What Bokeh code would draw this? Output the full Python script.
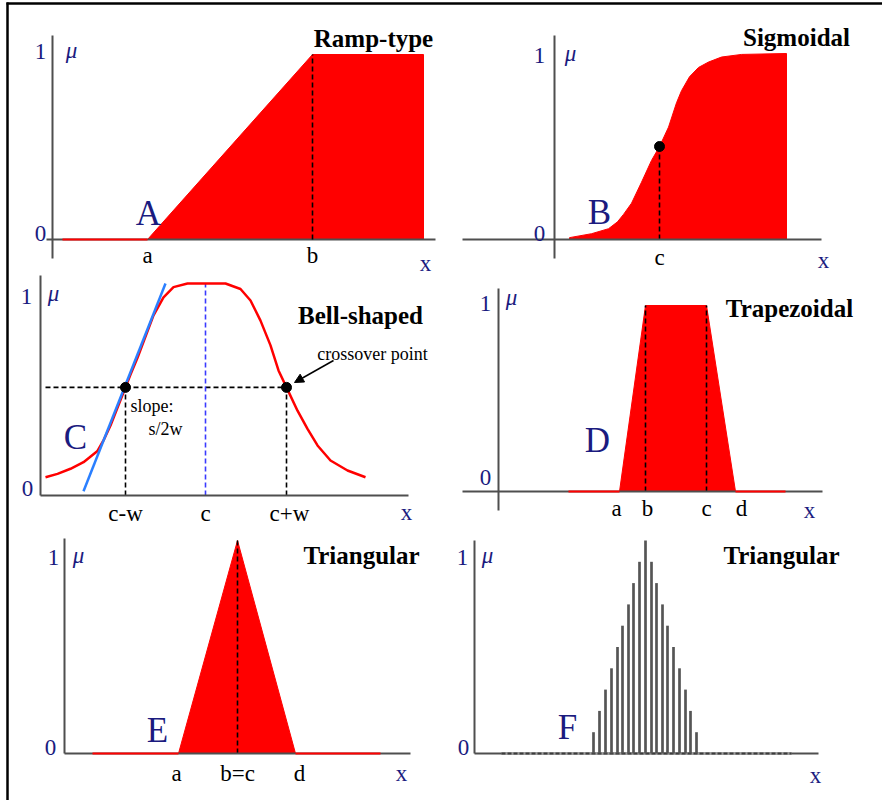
from bokeh.plotting import figure
from bokeh.models import Range1d, Arrow, NormalHead
from bokeh.core.properties import value
from bokeh.embed import file_html
from bokeh.resources import INLINE

# ------------------------------------------------------------------ data
# x: position on the universe of discourse (arbitrary units), mu: membership grade

# A  ramp-type
ramp_support = [1.0, 9.5]
ramp_x = [9.5, 26.0, 37.1, 37.1]
ramp_mu = [0.0, 1.0, 1.0, 0.0]
ramp_ticks = [9.5, 26.0]
ramp_tick_labels = ["a", "b"]

# B  sigmoidal
sig_x = [1.5, 3.7, 5.4, 6.3, 6.9, 7.7, 8.7, 9.7, 10.5, 11.4, 12.2, 12.7, 13.5, 14.4, 15.4, 16.7,
         18.7, 23.2]
sig_mu = [0.01, 0.031, 0.058, 0.095, 0.135, 0.195, 0.308, 0.425, 0.5, 0.604, 0.735, 0.80, 0.875,
          0.925, 0.954, 0.981, 0.995, 1.0]
sig_c = 10.5
sig_c_mu = 0.5

# C  bell-shaped
bell_x = [0.5, 1.7, 3.0, 4.3, 5.7, 6.3, 7.0, 7.5, 8.0, 8.5, 9.0, 9.7, 10.5, 11.3, 12.3, 13.3, 14.7,
          18.5, 20.0, 21.0, 22.0, 23.0, 23.8, 24.6, 25.7, 26.7, 27.7, 29.0, 30.7, 32.5]
bell_mu = [0.086, 0.102, 0.126, 0.157, 0.21, 0.26, 0.33, 0.39, 0.45, 0.51, 0.57, 0.65, 0.75, 0.85,
           0.935, 0.983, 1.0,
           1.0, 0.974, 0.92, 0.825, 0.708, 0.59, 0.51, 0.40, 0.314, 0.236, 0.165, 0.118, 0.086]
bell_ticks = [8.5, 16.5, 24.6]
bell_tick_labels = ["c-w", "c", "c+w"]
bell_cross_mu = 0.51
tangent_x = [4.3, 12.5]
tangent_mu = [0.02, 1.0]

# D  trapezoidal
trap_x = [12.1, 14.7, 20.8, 23.7]
trap_mu = [0.0, 1.0, 1.0, 0.0]
trap_support = [7.0, 28.7]
trap_tick_labels = ["a", "b", "c", "d"]

# E  triangular
tri_x = [11.4, 17.3, 23.1]
tri_mu = [0.0, 1.0, 0.0]
tri_support = [2.8, 31.6]
tri_tick_labels = ["a", "b=c", "d"]

# F  discrete triangular
disc_x = [11.9, 12.5, 13.1, 13.7, 14.3, 14.8, 15.4, 15.9, 16.5, 17.1,
          17.7, 18.2, 18.8, 19.3, 19.9, 20.5, 21.1, 21.6, 22.2]
disc_mu = [0.1, 0.2, 0.3, 0.4, 0.5, 0.6, 0.7, 0.8, 0.9, 1.0,
           0.9, 0.8, 0.7, 0.6, 0.5, 0.4, 0.3, 0.2, 0.1]
disc_support = [2.7, 31.7]

# ------------------------------------------------------------------ styling
RED = "#ff0000"
NAVY = "#1b1b7f"
AXIS = "#4f4f4f"
SERIF = value("Liberation Serif")
LBL = 23
TITLE = 25
BIG = 35
NOTE = 18
W, H = 882, 800

# one canvas; every panel gets its own pair of scales (extra ranges)
p = figure(width=W, height=H, x_range=Range1d(0, W), y_range=Range1d(H, 0),
           output_backend="svg", toolbar_location=None,
           x_axis_location=None, y_axis_location=None,
           min_border=0, outline_line_color=None)
p.grid.visible = False
p.background_fill_color = "white"
p.border_fill_color = "white"


class Panel:
    """ox/oy = canvas pixel of the panel origin, sx/sy = pixels per data unit."""

    def __init__(self, name, ox, oy, sy, sx=10.0):
        self.n, self.ox, self.oy, self.sx, self.sy = name, ox, oy, sx, sy
        p.extra_x_ranges[name] = Range1d(self.X(0), self.X(W))
        p.extra_y_ranges[name] = Range1d(self.Y(H), self.Y(0))
        self.kw = dict(x_range_name=name, y_range_name=name)

    def X(self, px):
        return (px - self.ox) / self.sx

    def Y(self, py):
        return (self.oy - py) / self.sy

    def line(self, xs, ys, **kw):
        p.line(x=xs, y=ys, **kw, **self.kw)

    def dashed(self, xs, ys, color="black", width=1.6):
        self.line(xs, ys, line_color=color, line_width=width, line_dash="5 3")

    def patch(self, xs, ys, color=RED):
        p.patch(x=xs, y=ys, fill_color=color, line_color=color, **self.kw)

    def dots(self, xs, ys):
        p.scatter(x=xs, y=ys, size=10, color="black", **self.kw)

    def text(self, px, py, s, size=LBL, color="black", style="normal", align="center", x=None):
        xx = self.X(px) if x is None else x
        p.text(x=[xx], y=[self.Y(py)], text=[s], text_font=SERIF,
               text_font_size=f"{size}px", text_color=color, text_font_style=style,
               text_align=align, text_baseline="alphabetic", **self.kw)

    def axes(self, xa, ya):
        self.line([self.X(xa[0]), self.X(xa[1])], [0, 0], line_color=AXIS, line_width=2)
        self.line([0, 0], [self.Y(ya[0]), self.Y(ya[1])], line_color=AXIS, line_width=2)

    def scale_labels(self, one, mu, zero, xlab):
        self.text(*one, "1", color=NAVY)
        self.text(*mu, "μ", color=NAVY, style="italic")
        self.text(*zero, "0", color=NAVY)
        self.text(*xlab, "x", color=NAVY)


# outer frame of the figure (top and left edges)
p.line(x=[6, W], y=[3, 3], line_color="black", line_width=2.5)
p.line(x=[7, 7], y=[2, H], line_color="black", line_width=2.5)

# ------------------------------------------------------------------ A
A = Panel("A", ox=52, oy=239, sy=185)
A.patch([ramp_x[0]] + ramp_x, [0.0] + ramp_mu)
A.axes((46, 435), (258, 35))
A.line(ramp_support, [0, 0], line_color=RED, line_width=2)
A.dashed([ramp_ticks[1]] * 2, [0, 1])
for xv, lab in zip(ramp_ticks, ramp_tick_labels):
    A.text(0, 255, lab, x=xv)
A.scale_labels((40, 51), (71, 50), (40, 233), (425, 263))
A.text(148, 213, "A", size=BIG, color=NAVY)
A.text(373, 38, "Ramp-type", size=TITLE, style="bold")

# ------------------------------------------------------------------ B
B = Panel("B", ox=554, oy=239, sy=186)
B.patch(sig_x + [sig_x[-1], sig_x[0]], sig_mu + [0.0, 0.0])
B.dashed([sig_c, sig_c], [0, sig_c_mu])
B.axes((462, 821), (258, 35))
B.dots([sig_c], [sig_c_mu])
B.text(0, 257, "c", x=sig_c)
B.scale_labels((539, 55), (570, 53), (539, 233), (823, 260))
B.text(599, 212, "B", size=BIG, color=NAVY)
B.text(796, 37, "Sigmoidal", size=TITLE, style="bold")

# ------------------------------------------------------------------ C
C = Panel("C", ox=40, oy=495, sy=212)
C.dashed([bell_x[0], bell_ticks[2]], [bell_cross_mu, bell_cross_mu])
C.dashed([bell_ticks[0]] * 2, [0, bell_cross_mu])
C.dashed([bell_ticks[2]] * 2, [0, bell_cross_mu])
C.dashed([bell_ticks[1]] * 2, [0, 1.0], color="#3a3aff")
C.line(bell_x, bell_mu, line_color=RED, line_width=2.5, line_join="round")
C.line(tangent_x, tangent_mu, line_color="#2a7fff", line_width=2.5)
C.axes((40, 408), (495, 275))
C.dots([bell_ticks[0], bell_ticks[2]], [bell_cross_mu] * 2)
p.add_layout(Arrow(end=NormalHead(size=9, fill_color="black", line_color="black"),
                   x_start=C.X(333), y_start=C.Y(360), x_end=C.X(294), y_end=C.Y(382),
                   line_color="black", line_width=1.5, x_range_name="C", y_range_name="C"))
for xv, lab, dx in zip(bell_ticks, bell_tick_labels, [0, 0, 3]):
    C.text(0, 513, lab, x=xv + dx / C.sx)
C.scale_labels((26, 296), (53, 293), (27, 488), (406, 512))
C.text(75, 437, "C", size=BIG, color=NAVY)
C.text(360, 315, "Bell-shaped", size=TITLE, style="bold")
C.text(372, 353, "crossover point", size=NOTE)
C.text(130, 405, "slope:", size=NOTE, align="left")
C.text(148, 428, "s/2w", size=NOTE, align="left")

# ------------------------------------------------------------------ D
D = Panel("D", ox=498, oy=491, sy=186)
D.patch(trap_x, trap_mu)
D.dashed([trap_x[1]] * 2, [0, 1])
D.dashed([trap_x[2]] * 2, [0, 1])
D.axes((462, 822), (510, 288))
D.line([trap_support[0], trap_x[0]], [0, 0], line_color=RED, line_width=2)
D.line([trap_x[3], trap_support[1]], [0, 0], line_color=RED, line_width=2)
for xv, lab, dx in zip(trap_x, trap_tick_labels, [-3, 2, 0, 6]):
    D.text(0, 508, lab, x=xv + dx / D.sx)
D.scale_labels((485, 303), (511, 297), (485, 477), (809, 510))
D.text(597, 440, "D", size=BIG, color=NAVY)
D.text(789, 308, "Trapezoidal", size=TITLE, style="bold")

# ------------------------------------------------------------------ E
E = Panel("E", ox=64, oy=753, sy=213)
E.patch(tri_x, tri_mu)
E.dashed([tri_x[1]] * 2, [0, 1])
E.axes((64, 410), (753, 538))
E.line([tri_support[0], tri_x[0]], [0, 0], line_color=RED, line_width=2)
E.line([tri_x[2], tri_support[1]], [0, 0], line_color=RED, line_width=2)
for xv, lab, dx in zip(tri_x, tri_tick_labels, [-2, 0, 4]):
    E.text(0, 773, lab, x=xv + dx / E.sx)
E.scale_labels((53, 557), (78, 555), (50, 747), (401, 773))
E.text(157, 730, "E", size=BIG, color=NAVY)
E.text(361, 555, "Triangular", size=TITLE, style="bold")

# ------------------------------------------------------------------ F
F = Panel("F", ox=474, oy=753, sy=213)
F.axes((474, 818), (753, 540))
F.line(disc_support, [0, 0], line_color="#9a9a9a", line_width=2)
F.line(disc_support, [0, 0], line_color="#3c3c3c", line_width=2, line_dash="4 2")
p.vbar(x=disc_x, top=disc_mu, bottom=0, width=0.27, fill_color="#555555", line_color=None, **F.kw)
F.scale_labels((462, 557), (487, 555), (463, 747), (815, 775))
F.text(567, 727, "F", size=BIG, color=NAVY)
F.text(781, 555, "Triangular", size=TITLE, style="bold")

open("out.html", "w").write(file_html(p, INLINE))
